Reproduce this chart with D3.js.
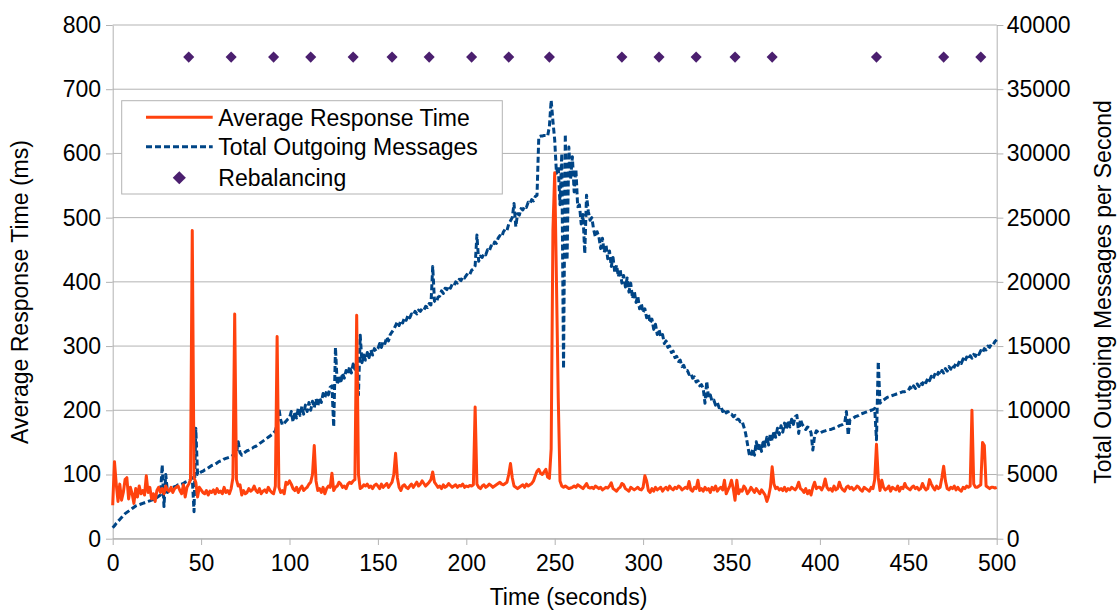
<!DOCTYPE html>
<html>
<head>
<meta charset="utf-8">
<script src="https://cdn.jsdelivr.net/npm/d3@7"></script>
<style>
  body { margin: 0; background: #fff; }
  svg { display: block; font-family: "Liberation Sans", Arial, sans-serif; }
</style>
</head>
<body>
<div id="chart"></div>
<script>
// one sample per second, t = 0 .. 500
const responseTime = [
  52,120,85,58,85, 60,72,92,95,62, 80,70,55,78,65, 82,70,75,68,98, 72,80,62,70,58,
  75,80,72,78,70, 82,76,74,80,72, 78,80,82,75,70, 84,65,80,85,92, 480,95,88,65,80,
  76,72,70,75,68, 74,72,76,70,78, 72,74,70,80,72, 75,70,78,95,350, 92,82,84,68,75,
  70,72,78,74,76, 82,75,72,78,70, 74,76,72,80,75, 72,70,82,315,80, 72,75,70,88,85,
  90,85,78,75,80, 72,78,82,75,78, 80,85,88,100,145, 90,75,78,72,80, 70,78,82,80,102,
  75,80,82,88,85, 80,82,78,85,88, 86,90,92,348,100, 78,80,84,82,85, 80,82,78,83,85,
  82,78,85,80,83, 86,80,84,88,100, 133,95,80,75,82, 84,80,78,82,85, 80,84,88,82,85,
  90,86,82,85,88, 92,104,88,84,80, 82,78,84,80,82, 86,83,80,82,84, 80,83,82,85,80,
  82,81,83,82,84, 205,85,80,78,82, 84,80,82,85,83, 80,82,84,86,88, 85,84,86,88,100,
  117,95,82,80,78, 80,82,84,80,85, 82,84,86,90,98, 105,108,102,100,104, 108,96,94,140,480,
  570,400,220,90,82, 80,82,80,78,79, 80,82,80,84,82, 80,78,82,86,80, 79,80,78,82,80,
  78,80,76,78,80, 79,82,87,78,76, 74,78,80,86,84, 78,76,74,80,78, 76,78,80,77,76,
  80,98,90,75,72, 78,74,80,76,78, 80,74,78,80,76, 82,78,76,80,78, 82,80,76,78,80,
  78,89,76,74,80, 78,91,75,78,74, 80,76,78,72,80, 76,82,74,78,80, 76,91,70,76,82,
  91,78,60,91,70, 76,74,82,78,70, 74,80,76,72,78, 74,70,76,72,68, 58,66,80,112,85,
  78,80,76,78,75, 80,74,78,76,80, 78,76,80,88,78, 76,72,78,70,75, 68,80,88,78,80,
  80,76,82,93,80, 76,78,74,82,76, 78,88,80,76,74, 80,82,78,80,76, 78,82,80,76,74,
  80,78,76,74,80, 78,92,147,95,75, 91,80,76,78,82, 74,80,78,76,82, 74,80,78,86,80,
  78,76,80,82,78, 80,76,78,86,80, 76,78,92,85,80, 76,82,78,80,95, 113,90,78,76,80,
  78,82,76,80,76, 74,80,78,82,80, 82,200,85,80,80, 82,84,150,145,82, 80,78,80,80,79,
  80
];

const outgoingMessages = [
  850,1000,1200,1350,1500, 1650,1800,1950,2050,2150, 2250,2350,2450,2550,2600, 2650,2700,2750,2800,2850, 2900,2950,3000,3050,3100,
  3200,3300,3400,5750,2500, 5000,3600,3800,3900,4000, 4050,4100,4200,4200,4250, 4300,4400,4450,4500,4600, 4750,2100,8600,5000,5100,
  5200,5250,5350,5400,5500, 5600,5700,5750,5800,5900, 6000,6050,6100,6200,6250, 6300,6350,6400,6500,6450, 6600,7550,6700,6500,6650,
  6750,6850,6900,7000,7050, 7150,7200,7300,7400,7500, 7600,7700,7800,7900,8000, 8100,8250,8400,8900,10150, 9250,8850,9000,9150,9300,
  9400,9900,9100,9900,9400, 10200,9600,10300,9700,10400, 9900,10600,10000,10700,10200, 10900,10300,11000,10600,11300, 11000,11500,11200,11800,11900,
  8700,14900,12000,12700,12100, 12900,12500,13100,12800,13400, 12900,13600,13200,13700,11200, 15850,13700,14300,13900,14500, 14100,14700,14300,14800,14600,
  14800,15200,14900,15400,15200, 15700,15400,15900,16100,16300, 16600,16900,16600,17000,16800, 17200,17000,17400,17200,17500, 17400,17700,17500,17800,17700,
  17900,17800,18100,18000,18300, 18200,21200,18500,18400,18800, 18900,19300,19100,19500,19400, 19700,19500,19800,19700,20000, 19900,20200,20100,20400,20300,
  20500,20700,20600,20900,21000, 21250,23650,21600,22000,21900, 22200,22100,22500,22400,22800, 22700,23100,23000,23400,23600, 23500,23900,24100,24000,24500,
  24750,25000,26100,24300,25300, 25200,25700,25600,25900,25800, 26200,26100,26400,26300,26650, 26750,31300,31350,31350,31400, 31400,31350,32100,34150,32500,
  31050,28450,29000,26000,30000, 13250,31500,21700,30500,28000, 29750,27000,28750,25850,26000, 24500,25250,22200,26750,25500, 24800,25000,24100,23500,23900,
  23500,22600,23400,22300,22900, 21800,22400,21200,21900,20700, 21300,20400,21000,19900,20500, 19600,20300,19200,19900,18700, 19300,18400,18900,17900,18300,
  17600,17900,17200,17500,16800, 17100,16300,16700,15900,16300, 15700,15900,15200,15400,14900, 15000,14500,14600,14100,14200, 13800,13900,13400,13500,13100,
  13100,12800,12900,12500,12600, 12200,12300,11900,12000,11700, 10550,12250,11000,11200,10700, 10800,10400,10600,10200,10300, 9900,10100,9800,9900,9700,
  9700,9500,9600,9300,9300, 9100,9150,8700,8200,7400, 6600,6400,7000,6500,7550, 6900,7400,6800,7700,7200, 7900,7300,8200,7600,8400,
  7900,8600,8100,8800,8300, 9000,8500,9200,8700,9300, 8900,9500,9600,8200,9300, 8900,8700,8500,8700,8600, 8250,6900,8000,8400,8300,
  8200,8300,8350,8400,8450, 8500,8500,8550,8600,8650, 8700,8800,8850,8900,9000, 9900,8050,9250,9300,9400, 9500,9550,9600,9700,9750,
  9800,9850,9900,9950,10000, 10050,10150,7700,13800,10550, 10700,10800,10900,11000,11050, 11100,11150,11200,11250,11300, 11350,11400,11450,11450,11500,
  11550,11800,11600,11900,11700, 12050,11850,12200,12000,12350, 12150,12500,12300,12650,12450, 12800,12600,12950,12750,13100, 12900,13250,13050,13400,13200,
  13550,13350,13700,13500,13850, 13650,14000,13800,14150,13950, 14250,14050,14350,14200,14500, 14350,14650,14500,14800,14700, 15000,14900,15150,15100,15350,
  15500
];

const rebalanceTimes = [43, 67, 91, 112, 136, 158, 179, 203, 224, 247, 288, 309, 330, 352, 373, 432, 470, 491];
const rebalanceLevel = 750; // ms, drawn on the left axis

const timeTicks = [0, 50, 100, 150, 200, 250, 300, 350, 400, 450, 500];
const responseTicks = [0, 100, 200, 300, 400, 500, 600, 700, 800];
const messageTicks = [0, 5000, 10000, 15000, 20000, 25000, 30000, 35000, 40000];

const legendLabels = ["Average Response Time", "Total Outgoing Messages", "Rebalancing"];

const width = 1117, height = 612;
const plot = { left: 112.7, right: 996.7, top: 25, bottom: 538.7 };
const orange = "#ff420e", blue = "#004586", purple = "#4b1f6f", grey = "#b3b3b3";
const fontSize = 23;

const x = d3.scaleLinear([0, 500], [plot.left, plot.right]);
const yLeft = d3.scaleLinear([0, 800], [plot.bottom, plot.top]);
const yRight = d3.scaleLinear([0, 40000], [plot.bottom, plot.top]);

const svg = d3
  .select("#chart")
  .append("svg")
  .attr("width", width)
  .attr("height", height)
  .attr("viewBox", [0, 0, width, height]);

// horizontal grid
svg
  .append("g")
  .selectAll("line")
  .data(responseTicks)
  .join("line")
  .attr("x1", plot.left)
  .attr("x2", plot.right)
  .attr("y1", (d) => yLeft(d))
  .attr("y2", (d) => yLeft(d))
  .attr("stroke", grey)
  .attr("stroke-width", 1);

// axes
const styleAxis = (g) => {
  g.selectAll(".domain").attr("stroke", grey).attr("stroke-width", 1);
  g.selectAll(".tick line").attr("stroke", grey).attr("stroke-width", 1);
  g.selectAll(".tick text")
    .attr("fill", "#000")
    .style("font-size", fontSize + "px")
    .style("font-family", '"Liberation Sans", Arial, sans-serif');
};

svg
  .append("g")
  .attr("transform", `translate(${plot.left},0)`)
  .call(d3.axisLeft(yLeft).tickValues(responseTicks).tickSize(6.7).tickSizeOuter(0).tickPadding(5))
  .call(styleAxis);

svg
  .append("g")
  .attr("transform", `translate(${plot.right},0)`)
  .call(
    d3.axisRight(yRight)
      .tickValues(messageTicks)
      .tickFormat(d3.format("d"))
      .tickSize(6.7)
      .tickSizeOuter(0)
      .tickPadding(3.3)
  )
  .call(styleAxis);

svg
  .append("g")
  .attr("transform", `translate(0,${plot.bottom})`)
  .call(d3.axisBottom(x).tickValues(timeTicks).tickSize(6.3).tickSizeOuter(0).tickPadding(10))
  .call(styleAxis);

// axis titles
svg
  .append("text")
  .attr("transform", "translate(28.3,292) rotate(-90)")
  .attr("text-anchor", "middle")
  .style("font-size", fontSize + "px")
  .text("Average Response Time (ms)");

svg
  .append("text")
  .attr("transform", "translate(1110.5,292) rotate(-90)")
  .attr("text-anchor", "middle")
  .style("font-size", fontSize + "px")
  .text("Total Outgoing Messages per Second");

svg
  .append("text")
  .attr("x", 568.5)
  .attr("y", 605)
  .attr("text-anchor", "middle")
  .style("font-size", fontSize + "px")
  .text("Time (seconds)");

// series
const messagesLine = d3
  .line()
  .x((d, i) => x(i))
  .y((d) => yRight(d));

const responseLine = d3
  .line()
  .x((d, i) => x(i))
  .y((d) => yLeft(d));

svg
  .append("path")
  .datum(outgoingMessages)
  .attr("fill", "none")
  .attr("stroke", blue)
  .attr("stroke-width", 3)
  .attr("stroke-dasharray", "6,3")
  .attr("stroke-linejoin", "round")
  .attr("d", messagesLine);

svg
  .append("path")
  .datum(responseTime)
  .attr("fill", "none")
  .attr("stroke", orange)
  .attr("stroke-width", 3)
  .attr("stroke-linejoin", "round")
  .attr("d", responseLine);

const diamond = d3.symbol(d3.symbolDiamond2, 78);

svg
  .append("g")
  .selectAll("path")
  .data(rebalanceTimes)
  .join("path")
  .attr("transform", (d) => `translate(${x(d)},${yLeft(rebalanceLevel)})`)
  .attr("d", diamond)
  .attr("fill", purple);

// legend
const legend = svg.append("g");

legend
  .append("rect")
  .attr("x", 121.7)
  .attr("y", 100.7)
  .attr("width", 380.6)
  .attr("height", 93.3)
  .attr("fill", "#fff")
  .attr("stroke", grey)
  .attr("stroke-width", 1);

const rowY = [117.3, 146.7, 177.7];

legend
  .append("line")
  .attr("x1", 146)
  .attr("x2", 212.7)
  .attr("y1", rowY[0])
  .attr("y2", rowY[0])
  .attr("stroke", orange)
  .attr("stroke-width", 3);

legend
  .append("line")
  .attr("x1", 146)
  .attr("x2", 212.7)
  .attr("y1", rowY[1])
  .attr("y2", rowY[1])
  .attr("stroke", blue)
  .attr("stroke-width", 3)
  .attr("stroke-dasharray", "6,3");

legend
  .append("path")
  .attr("transform", `translate(179.3,${rowY[2]})`)
  .attr("d", d3.symbol(d3.symbolDiamond2, 110))
  .attr("fill", purple);

legend
  .selectAll("text")
  .data(legendLabels)
  .join("text")
  .attr("x", 218.3)
  .attr("y", (d, i) => rowY[i] + 8.3)
  .style("font-size", fontSize + "px")
  .text((d) => d);
</script>
</body>
</html>
